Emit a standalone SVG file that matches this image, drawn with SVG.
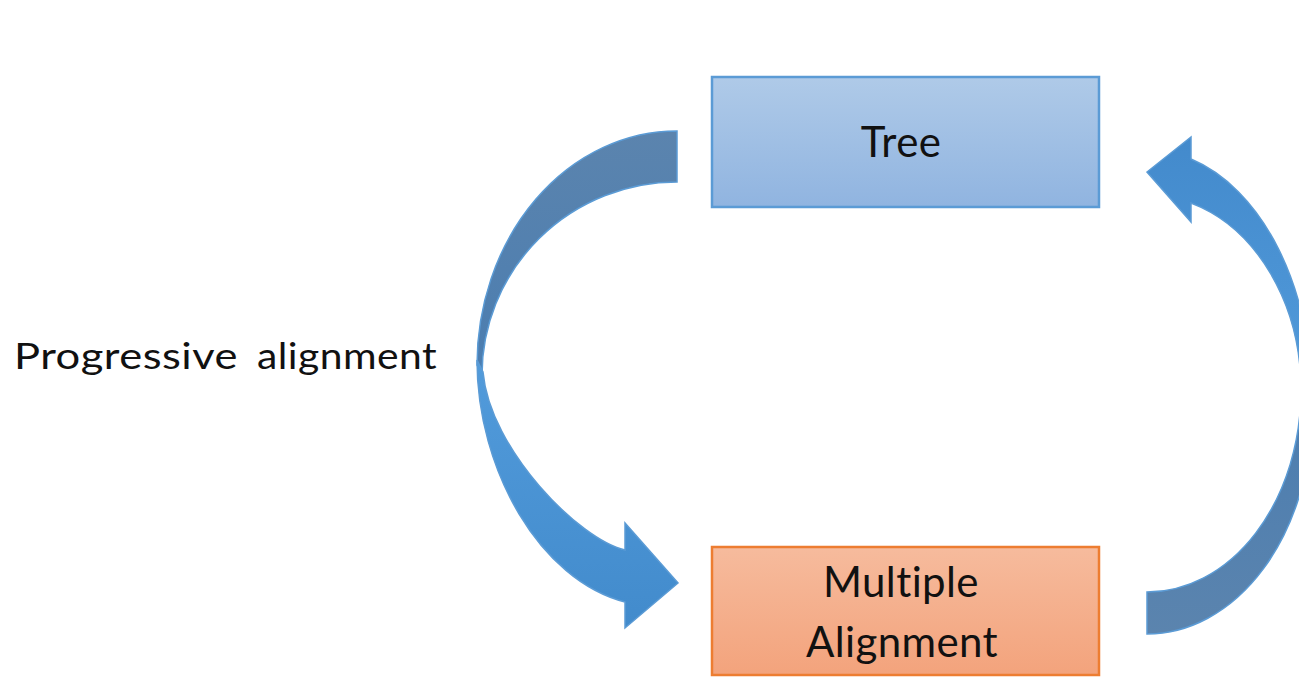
<svg xmlns="http://www.w3.org/2000/svg" width="1299" height="677" viewBox="0 0 1299 677">
  <defs>
    <linearGradient id="gTree" x1="0" y1="0" x2="0" y2="1">
      <stop offset="0" stop-color="#afcae8"/>
      <stop offset="1" stop-color="#90b4e0"/>
    </linearGradient>
    <linearGradient id="gAlign" x1="0" y1="0" x2="0" y2="1">
      <stop offset="0" stop-color="#f6bb9d"/>
      <stop offset="1" stop-color="#f3a37c"/>
    </linearGradient>
    <linearGradient id="gDarkL" x1="0" y1="0" x2="0" y2="1">
      <stop offset="0" stop-color="#5b84ae"/>
      <stop offset="1" stop-color="#4b7db0"/>
    </linearGradient>
    <linearGradient id="gLightL" x1="0" y1="0" x2="0" y2="1">
      <stop offset="0" stop-color="#529bdb"/>
      <stop offset="1" stop-color="#428bcc"/>
    </linearGradient>
    <linearGradient id="gLightR" x1="0" y1="0" x2="0" y2="1">
      <stop offset="0" stop-color="#438acc"/>
      <stop offset="1" stop-color="#529bdb"/>
    </linearGradient>
    <linearGradient id="gDarkR" x1="0" y1="0" x2="0" y2="1">
      <stop offset="0" stop-color="#4b7db0"/>
      <stop offset="1" stop-color="#5b84ae"/>
    </linearGradient>
  </defs>
  <style>
    .lbl { font-family: Lato, "Open Sans", "Liberation Sans", sans-serif; fill: #111; font-variant-ligatures: none; font-feature-settings: "liga" 0, "clig" 0; letter-spacing: 0.4px; }
    .arrow { stroke: #5b9bd5; stroke-width: 1.5; stroke-linejoin: miter; }
  </style>
  <rect width="1299" height="677" fill="#ffffff"/>

  <g id="connectors">
    <g id="progressive-arrow">
      <path class="arrow" fill="url(#gDarkL)" d="M 677,131 A 200 234 0 0 0 477,365 L 482,375 A 195 193 0 0 1 677,182 Z"/>
      <path class="arrow" fill="url(#gLightL)" d="M 477,360 C 477,470 540,580 625,602 L 625,628 L 678,583 L 625,523 L 625,550 C 580,540 490,450 483,372 Z"/>
    </g>
    <g id="return-arrow">
      <path class="arrow" fill="url(#gDarkR)" d="M 1147,592 A 154 202 0 0 0 1301,390 L 1312,410 A 165 224 0 0 1 1147,634 Z"/>
      <path class="arrow" fill="url(#gLightR)" d="M 1191,222 L 1147,172 L 1191,137 L 1191,159 A 165 250 0 0 1 1312,400 L 1301,390 A 154 195 0 0 0 1191,203 Z"/>
    </g>
  </g>

  <g id="label-progressive">
    <text class="lbl" x="14" y="369" font-size="36" textLength="224" lengthAdjust="spacingAndGlyphs">Progressive</text>
    <text class="lbl" x="257" y="369" font-size="36" textLength="180" lengthAdjust="spacingAndGlyphs">alignment</text>
  </g>

  <g id="node-tree">
    <rect x="712" y="77" width="387" height="130" fill="url(#gTree)" stroke="#5b9bd5" stroke-width="2.5"/>
    <text class="lbl" x="901" y="157" font-size="42" text-anchor="middle">Tree</text>
  </g>

  <g id="node-multiple-alignment">
    <rect x="712" y="547" width="387" height="128" fill="url(#gAlign)" stroke="#ed7d31" stroke-width="2.5"/>
    <text class="lbl" x="901" y="597" font-size="42" text-anchor="middle">Multiple</text>
    <text class="lbl" x="902" y="657" font-size="42" text-anchor="middle">Alignment</text>
  </g>
</svg>
